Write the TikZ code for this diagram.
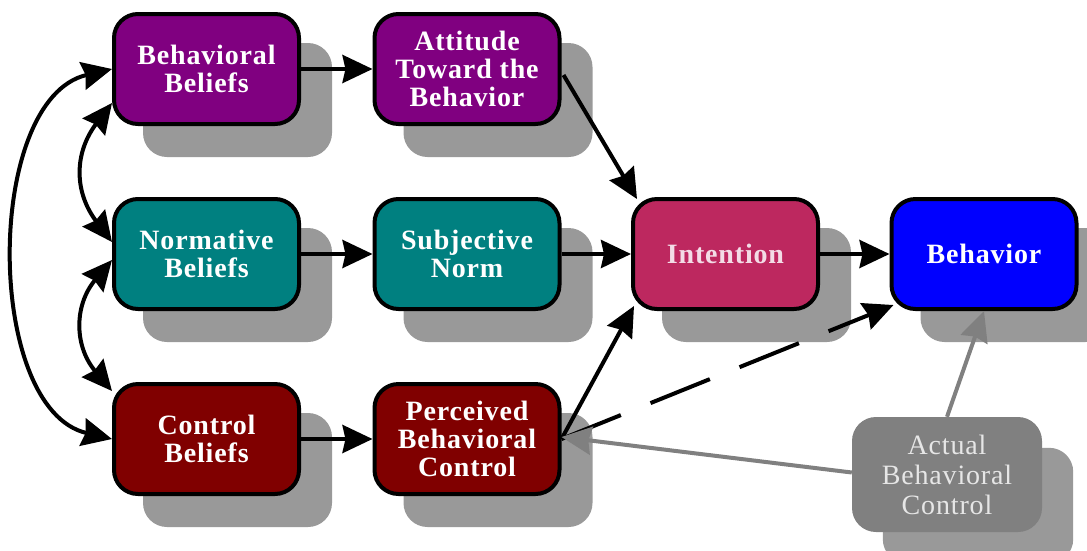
\documentclass[tikz,border=0pt]{standalone}
\usepackage{fontspec}
\setmainfont{Liberation Serif}
\newfontfamily\boxfont[LetterSpace=3]{Liberation Serif}
\usetikzlibrary{arrows.meta,calc,backgrounds}

\definecolor{shadowgray}{HTML}{999999}
\definecolor{beliefpurple}{HTML}{800080}
\definecolor{normteal}{HTML}{008080}
\definecolor{controlred}{HTML}{800000}
\definecolor{intentfill}{HTML}{BD285F}
\definecolor{intenttext}{HTML}{F3DCE6}
\definecolor{behavblue}{HTML}{0000FF}
\definecolor{actualfill}{HTML}{808080}
\definecolor{actualtext}{HTML}{E6E6E6}

\begin{document}
\begin{tikzpicture}[x=1pt,y=-1pt,
  box/.style={rounded corners=24pt, minimum width=185pt, minimum height=110pt,
    draw=black, line width=4pt, text=white, align=center, inner sep=0pt,
    font=\boxfont\bfseries\fontsize{28}{28}\selectfont},
  graybox/.style={rounded corners=24pt, minimum width=190pt, minimum height=115pt,
    fill=actualfill, text=actualtext, align=center, inner sep=0pt,
    font=\boxfont\fontsize{28}{30}\selectfont},
  tip/.tip={Stealth[length=30pt,width=28pt,inset=3pt]},
  arr/.style={line width=4pt, -tip},
  dbl/.style={line width=4pt, tip-tip},
  grayarr/.style={line width=4pt, draw=actualfill,
    -{Stealth[length=30pt,width=28pt,inset=3pt,fill=actualfill]}}
]
\useasboundingbox (0,0) rectangle (1087,550);
\clip (0,0) rectangle (1087,550);

% boxes
\node[box, fill=beliefpurple] (bb)  at (206.5,69)  {Behavioral\\Beliefs};
\node[box, fill=beliefpurple] (att) at (467,69)    {Attitude\\Toward the\\Behavior};
\node[box, fill=normteal]     (nb)  at (206.5,254) {Normative\\Beliefs};
\node[box, fill=normteal]     (sn)  at (467,254)   {Subjective\\Norm};
\node[box, fill=controlred]   (cb)  at (206.5,439) {Control\\Beliefs};
\node[box, fill=controlred]   (pbc) at (467,439)   {Perceived\\Behavioral\\Control};
\node[box, fill=intentfill, text=intenttext] (int) at (725.5,254) {Intention};
\node[box, fill=behavblue]    (beh) at (984,254)   {Behavior};
\node[graybox]                (act) at (947,474.5) {Actual\\Behavioral\\Control};

% drop shadows
\begin{pgfonlayer}{background}
\foreach \n in {bb,att,nb,sn,cb,pbc,int,beh,act}
  \fill[shadowgray, rounded corners=24pt]
    ($(\n.south west)+(31,31)$) rectangle ($(\n.north east)+(31,31)$);
\end{pgfonlayer}

% links between the beliefs
\draw[dbl] (bb.west) .. controls +(-128,30) and +(-128,-30) .. (cb.west);
\draw[dbl] ($(bb.west)+(0,34)$) .. controls +(-38,50) and +(-38,-50) .. ($(nb.west)+(0,-12)$);
\draw[dbl] ($(nb.west)+(0,6)$) .. controls +(-38,45) and +(-38,-45) .. ($(cb.north west)+(0,9)$);

% main paths
\draw[arr] (bb.east) -- (att.west);
\draw[arr] (nb.east) -- (sn.west);
\draw[arr] (cb.east) -- (pbc.west);
\draw[arr] ($(att.east)+(2,6)$) -- ($(int.north west)+(6,2)$);
\draw[arr] (sn.east) -- (int.west);
\draw[arr] (pbc.east) -- ($(int.south west)+(3,-5)$);
\draw[arr] (int.east) -- (beh.west);
\draw[arr, dash pattern=on 64pt off 32pt] (pbc.east) -- ($(beh.south west)+(4,-6)$);

% actual control
\draw[grayarr] (act.north) -- (beh.south);
\draw[grayarr] ($(act.west)+(0,-2)$) -- ($(pbc.east)+(0,-2)$);
\end{tikzpicture}
\end{document}
